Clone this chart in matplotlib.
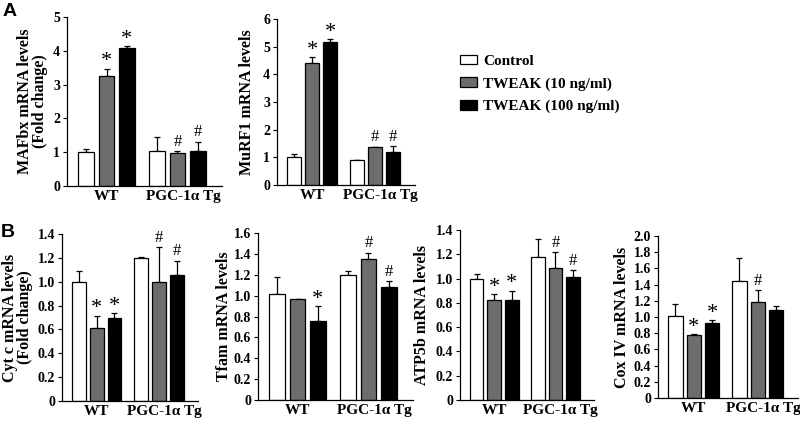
import matplotlib
matplotlib.use("Agg")
import matplotlib.pyplot as plt
from matplotlib.patches import Patch
import numpy as np

# Values (WT group then PGC-1a Tg group)
groups = ["WT", "PGC-1\u03b1 Tg"]
series = ["Control", "TWEAK (10 ng/ml)", "TWEAK (100 ng/ml)"]

mafbx = [[1.0, 3.25, 4.09], [1.05, 0.97, 1.03]]
mafbx_err = [[0.1, 0.22, 0.04], [0.4, 0.06, 0.28]]
murf1 = [[1.0, 4.42, 5.18], [0.89, 1.36, 1.2]]
murf1_err = [[0.12, 0.19, 0.1], [0.03, 0.02, 0.2]]
cytc = [[1.0, 0.615, 0.70], [1.2, 1.0, 1.056]]
cytc_err = [[0.09, 0.1, 0.04], [0.005, 0.29, 0.12]]
tfam = [[1.014, 0.966, 0.76], [1.2, 1.35, 1.08]]
tfam_err = [[0.16, 0.006, 0.14], [0.04, 0.06, 0.06]]
atp5b = [[1.0, 0.82, 0.82], [1.18, 1.085, 1.016]]
atp5b_err = [[0.04, 0.05, 0.08], [0.15, 0.13, 0.055]]
cox4 = [[1.016, 0.78, 0.93], [1.45, 1.18, 1.086]]
cox4_err = [[0.15, 0.01, 0.03], [0.28, 0.15, 0.05]]

# significance marks: "*" vs control, "#" vs WT
mafbx_sig = [["", "*", "*"], ["", "#", "#"]]
murf1_sig = [["", "*", "*"], ["", "#", "#"]]
cytc_sig = [["", "*", "*"], ["", "#", "#"]]
tfam_sig = [["", "", "*"], ["", "#", "#"]]
atp5b_sig = [["", "*", "*"], ["", "#", "#"]]
cox4_sig = [["", "*", "*"], ["", "#", ""]]

colors = ["white", "#6d6d6d", "black"]
serif = "Liberation Serif"

W, H = 800, 423
fig = plt.figure(figsize=(W / 100, H / 100), dpi=100)


def ax_at(left, right, top, bottom):
    return fig.add_axes([left / W, 1 - bottom / H, (right - left) / W, (bottom - top) / H])


def bar_panel(ax, vals, errs, sig, ymax, ystep, ylabel, fmt, labelx):
    width = 0.78
    offsets = [0.0, 3.5]
    for g in range(2):
        for s in range(3):
            x = offsets[g] + s
            v = vals[g][s]
            e = errs[g][s]
            ax.bar(x, v, width, color=colors[s], edgecolor="black", linewidth=0.9, zorder=2)
            ax.errorbar(x, v, yerr=[[0], [e]], fmt="none", ecolor="black",
                        elinewidth=0.9, capsize=2.5, capthick=0.9, zorder=1)
            if sig[g][s] == "*":
                ax.annotate("*", (x, v + e), xytext=(0, -2), textcoords="offset points",
                            ha="center", va="bottom", fontsize=16, family=serif)
            elif sig[g][s] == "#":
                ax.annotate("#", (x, v + e), xytext=(0, 1), textcoords="offset points",
                            ha="center", va="bottom", fontsize=12, family=serif)
    ax.set_xlim(-0.95, 6.7)
    ax.set_ylim(0, ymax)
    ticks = np.arange(0, ymax + ystep / 2, ystep)
    ax.set_yticks(ticks)
    ax.set_yticklabels(["0"] + [fmt.format(t) for t in ticks[1:]],
                       family=serif, fontweight="bold", fontsize=10)
    ax.set_xticks([1, 4.8])
    ax.set_xticklabels(groups, family=serif, fontweight="bold", fontsize=11)
    ax.tick_params(axis="x", length=0, pad=3)
    ax.tick_params(axis="y", length=3, width=0.8, pad=2)
    for sp in ["top", "right"]:
        ax.spines[sp].set_visible(False)
    for sp in ["left", "bottom"]:
        ax.spines[sp].set_linewidth(0.9)
    ax.set_ylabel(ylabel, family=serif, fontweight="bold", fontsize=11.5, linespacing=0.95)
    ax.yaxis.set_label_coords(labelx, 0.5)


a1 = ax_at(67, 222, 17, 186)
bar_panel(a1, mafbx, mafbx_err, mafbx_sig, 5, 1, "MAFbx mRNA levels\n(Fold change)", "{:.0f}", -0.123)
a2 = ax_at(277, 415, 19, 185)
bar_panel(a2, murf1, murf1_err, murf1_sig, 6, 1, "MuRF1 mRNA levels", "{:.0f}", -0.16)

b1 = ax_at(62, 198, 234, 401)
bar_panel(b1, cytc, cytc_err, cytc_sig, 1.4, 0.2, "Cyt c mRNA levels\n(Fold change)", "{:.1f}", -0.213)
b2 = ax_at(258, 413, 233, 400)
bar_panel(b2, tfam, tfam_err, tfam_sig, 1.6, 0.2, "Tfam mRNA levels", "{:.1f}", -0.168)
b3 = ax_at(460, 594, 230, 400)
bar_panel(b3, atp5b, atp5b_err, atp5b_sig, 1.4, 0.2, "ATP5b mRNA levels", "{:.1f}", -0.224)
b4 = ax_at(658, 798, 236, 398)
bar_panel(b4, cox4, cox4_err, cox4_sig, 2.0, 0.2, "Cox IV mRNA levels", "{:.1f}", -0.2)

# panel letters
fig.text(3 / W, 1 - 3 / H, "A", fontsize=14, fontweight="bold", family="Liberation Sans", va="top")
fig.text(1 / W, 1 - 224 / H, "B", fontsize=14, fontweight="bold", family="Liberation Sans", va="top")

handles = [Patch(facecolor=c, edgecolor="black", linewidth=0.9) for c in colors]
fig.legend(handles, series, loc="upper left", bbox_to_anchor=(446 / W, 1 - 41 / H),
           frameon=False, handlelength=1.1, handleheight=0.6, handletextpad=0.45,
           labelspacing=0.6, prop={"family": serif, "weight": "bold", "size": 11})

fig.savefig("out.png", dpi=100)
